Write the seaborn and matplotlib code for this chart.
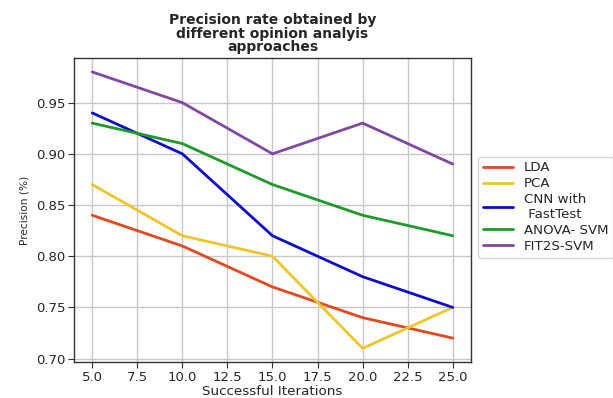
import numpy as np
import pandas as pd
import matplotlib
matplotlib.use("Agg")
import matplotlib.pyplot as plt
import seaborn as sns

iterations = [5, 10, 15, 20, 25]
lda = [0.84, 0.81, 0.77, 0.74, 0.72]
pca = [0.87, 0.82, 0.80, 0.71, 0.75]
cnn = [0.94, 0.90, 0.82, 0.78, 0.75]
anova = [0.93, 0.91, 0.87, 0.84, 0.82]
fit2s = [0.98, 0.95, 0.90, 0.93, 0.89]

labels = ["LDA", "PCA", "CNN with\n FastTest", "ANOVA- SVM", "FIT2S-SVM"]
colors = ["#e4481f", "#eec62a", "#0d0dcc", "#1f9a2a", "#8048a0"]

df = pd.DataFrame({
    "Successful Iterations": iterations * 5,
    "Precision (%)": lda + pca + cnn + anova + fit2s,
    "method": np.repeat(labels, len(iterations)),
})

sns.set_style("whitegrid")
plt.rcParams["font.family"] = ["DejaVu Sans"]

fig = plt.figure(figsize=(6.13, 3.98), dpi=100)
ax = fig.add_axes([0.121, 0.090, 0.647, 0.764])
sns.lineplot(data=df, x="Successful Iterations", y="Precision (%)", hue="method",
             palette=colors, linewidth=2, ax=ax)

ax.grid(True, color="#c8c8c8", linewidth=1)
for s in ax.spines.values():
    s.set_color("#333333")
    s.set_linewidth(1)
ax.tick_params(axis="both", which="both", length=4, color="#333333", labelsize=9.5,
               left=True, bottom=True, pad=2)
ax.set_xticks(np.arange(5, 25.1, 2.5))
ax.set_yticks([0.70, 0.75, 0.80, 0.85, 0.90, 0.95])
ax.set_xlabel("Successful Iterations", fontsize=9.7, labelpad=1)
ax.set_ylabel("Precision (%)", fontsize=7.6, labelpad=5)
ax.set_title("Precision rate obtained by\ndifferent opinion analyis\napproaches",
             fontsize=10, fontweight="bold", linespacing=0.95, pad=5)

ax.legend(title=None, loc="center left", bbox_to_anchor=(1.018, 0.51), borderaxespad=0,
          fontsize=9.6, frameon=True, labelspacing=0.22, handlelength=2.3,
          borderpad=0.35)

plt.savefig("out.png", dpi=100)
